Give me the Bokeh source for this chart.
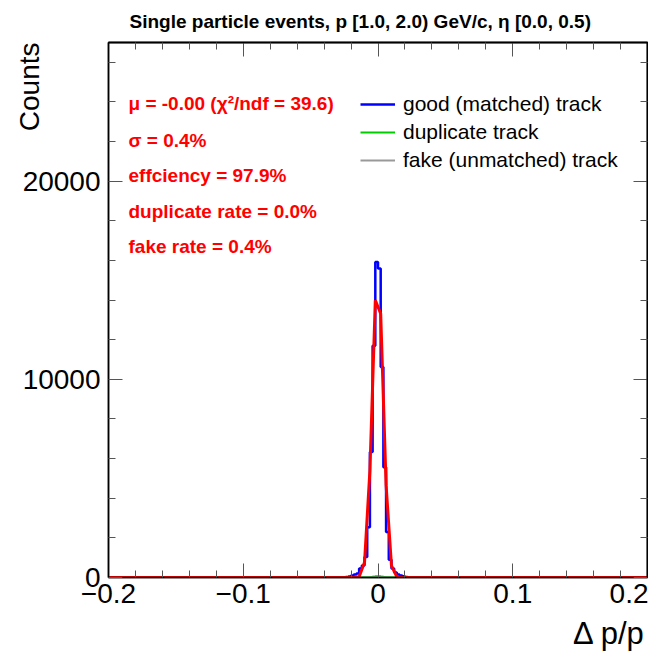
from bokeh.plotting import figure
from bokeh.models import (Range1d, LinearAxis, FixedTicker, CustomJSTickFormatter,
                          NumeralTickFormatter, Label, Legend, LegendItem, Title)
from bokeh.embed import file_html
from bokeh.resources import INLINE

# ---------------- data ----------------
x_min, x_max = -0.2, 0.2
y_max = 27000
bin_width = 0.002

good_bin_left = [-0.024, -0.022, -0.020, -0.018, -0.016, -0.014, -0.012, -0.010,
                 -0.008, -0.006, -0.004, -0.002, 0.000, 0.002, 0.004, 0.006,
                 0.008, 0.010, 0.012, 0.014, 0.016, 0.018, 0.020]
good_counts = [20, 50, 100, 150, 200, 450, 600, 1030,
               2540, 6330, 11700, 15920, 15590, 10620, 5570, 2290,
               900, 450, 250, 150, 100, 60, 30]

fake_bin_left = [-0.006, -0.004, -0.002, 0.000, 0.002, 0.004]
fake_counts = [20, 50, 80, 80, 50, 20]

dup_bin_left = []
dup_counts = []

fit_x = [-0.2, -0.018, -0.014, -0.010, -0.006, -0.002, 0.002, 0.006, 0.010, 0.014, 0.018, 0.2]
fit_y = [0, 0, 40, 770, 5410, 13990, 13320, 4660, 600, 30, 0, 0]

x_major_ticks = [-0.2, -0.1, 0.0, 0.1, 0.2]
x_minor_ticks = [-0.18, -0.16, -0.14, -0.12, -0.08, -0.06, -0.04, -0.02,
                 0.02, 0.04, 0.06, 0.08, 0.12, 0.14, 0.16, 0.18]
y_major_ticks = [0, 10000, 20000]
y_minor_ticks = [2000, 4000, 6000, 8000, 12000, 14000, 16000, 18000,
                 22000, 24000, 26000]

title_text = "Single particle events, p [1.0, 2.0) GeV/c, η [0.0, 0.5)"
stats_lines = ["μ = -0.00 (χ²/ndf = 39.6)", "σ = 0.4%", "effciency = 97.9%",
               "duplicate rate = 0.0%", "fake rate = 0.4%"]
legend_labels = ["good (matched) track", "duplicate track", "fake (unmatched) track"]
x_label = "Δ p/p"
y_label = "Counts"

FONT = "Liberation Sans"


def outline(lefts, counts):
    if not lefts:
        return [x_min, x_max], [0, 0]
    xs = [x_min, lefts[0]]
    ys = [0, 0]
    for l, c in zip(lefts, counts):
        xs += [l, l + bin_width]
        ys += [c, c]
    xs += [lefts[-1] + bin_width, x_max]
    ys += [0, 0]
    return xs, ys


p = figure(width=648, height=660, output_backend="svg", toolbar_location=None,
           x_range=Range1d(x_min, x_max), y_range=Range1d(0, y_max),
           min_border_left=108, min_border_right=1, min_border_top=42, min_border_bottom=83)
p.xgrid.visible = False
p.ygrid.visible = False
p.background_fill_color = "white"
p.border_fill_color = "white"
p.outline_line_color = "black"
p.outline_line_width = 1.5

xfmt = CustomJSTickFormatter(code="""
if (Math.abs(tick) < 1e-9) return '0';
return tick.toFixed(1).replace('-', '\u2212');
""")


def style_ticks(ax):
    ax.axis_line_color = "black"
    ax.axis_line_width = 1.5
    ax.major_tick_in = 14
    ax.major_tick_out = 0
    ax.minor_tick_in = 7
    ax.minor_tick_out = 0
    ax.major_tick_line_color = "#555555"
    ax.minor_tick_line_color = "#555555"
    ax.major_tick_line_width = 1
    ax.minor_tick_line_width = 1


xa = p.xaxis[0]
xa.ticker = FixedTicker(ticks=x_major_ticks, minor_ticks=x_minor_ticks)
xa.formatter = xfmt
style_ticks(xa)
xa.major_label_text_font = FONT
xa.major_label_text_font_size = "28px"
xa.major_label_text_color = "black"
xa.major_label_standoff = 6

ya = p.yaxis[0]
ya.ticker = FixedTicker(ticks=y_major_ticks, minor_ticks=y_minor_ticks)
ya.formatter = NumeralTickFormatter(format="0")
style_ticks(ya)
ya.major_label_text_font = FONT
ya.major_label_text_font_size = "28px"
ya.major_label_text_color = "black"
ya.major_label_standoff = 8


def tick_only_axis(minor_positions, length):
    ax = LinearAxis(ticker=FixedTicker(ticks=[], minor_ticks=minor_positions))
    style_ticks(ax)
    ax.minor_tick_in = length
    ax.major_label_standoff = 0
    return ax


p.add_layout(tick_only_axis(x_major_ticks, 14), "above")
p.add_layout(tick_only_axis(x_minor_ticks, 7), "above")
p.add_layout(tick_only_axis(y_major_ticks, 14), "right")
p.add_layout(tick_only_axis(y_minor_ticks, 7), "right")

# histograms
gx, gy = outline(good_bin_left, good_counts)
fx, fy = outline(fake_bin_left, fake_counts)
dx, dy = outline(dup_bin_left, dup_counts)

r_fake = p.line(fx, fy, line_color="#999999", line_width=2)
r_dup = p.line(dx, dy, line_color="#00cc00", line_width=2)
r_good = p.line(gx, gy, line_color="#0000ff", line_width=2.5)
p.line(fit_x, fit_y, line_color="#ff0000", line_width=3)

legend = Legend(items=[LegendItem(label=legend_labels[0], renderers=[r_good]),
                       LegendItem(label=legend_labels[1], renderers=[r_dup]),
                       LegendItem(label=legend_labels[2], renderers=[r_fake])],
                location=(252, 405))
legend.border_line_alpha = 0
legend.background_fill_alpha = 0
legend.label_text_font = FONT
legend.label_text_font_size = "21px"
legend.label_text_color = "black"
legend.glyph_width = 35
legend.glyph_height = 20
legend.label_height = 20
legend.spacing = 4
legend.padding = 0
legend.margin = 0
legend.label_standoff = 8
p.add_layout(legend, "center")

# plot title
p.title.text = title_text
p.title.text_font = FONT
p.title.text_font_size = "19px"
p.title.text_font_style = "bold"
p.title.text_color = "black"
p.title.align = "left"
p.title.offset = 21
p.title.vertical_align = "top"
p.title.standoff = 18

# axis titles (ROOT style: at the ends of the axes)
p.add_layout(Title(text=x_label, text_font=FONT, text_font_size="31px",
                   text_font_style="normal", text_color="black", align="right",
                   offset=2, vertical_align="bottom", standoff=16), "below")
p.add_layout(Title(text=y_label, text_font=FONT, text_font_size="28px",
                   text_font_style="normal", text_color="black", align="right",
                   offset=0, vertical_align="bottom", standoff=-50), "left")

# fit statistics
stats_y = [474, 437, 402, 366, 331]
for txt, yy in zip(stats_lines, stats_y):
    p.add_layout(Label(x=20, y=yy, x_units="screen", y_units="screen", text=txt,
                       text_font=FONT, text_font_size="19px", text_font_style="bold",
                       text_align="left", text_baseline="middle", text_color="#ff0000"))

open("out.html", "w").write(file_html(p, INLINE))
